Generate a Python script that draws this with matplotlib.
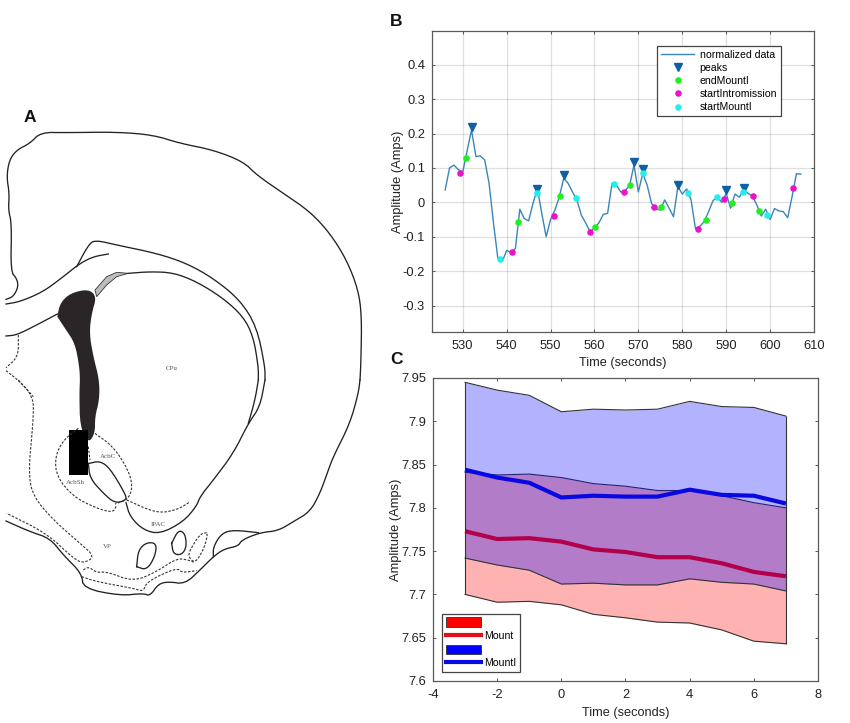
import numpy as np
import matplotlib
matplotlib.use("Agg")
import matplotlib.pyplot as plt
from matplotlib.lines import Line2D
from matplotlib.patches import Patch, Polygon

plt.rcParams["font.family"] = ["Liberation Sans", "DejaVu Sans"]
plt.rcParams["axes.unicode_minus"] = False

# panel B
trace_start = 526
trace = [0.036, 0.100, 0.108, 0.095, 0.088, 0.150, 0.210, 0.133, 0.135, 0.123, 0.055,
         -0.060, -0.163, -0.172, -0.140, -0.146, -0.134, -0.020, -0.047, -0.054, -0.003,
         0.040, -0.032, -0.100, -0.050, -0.022, 0.016, 0.070, 0.055, 0.030, 0.007,
         -0.037, -0.060, -0.085, -0.075, -0.060, -0.035, -0.032, 0.055, 0.050, 0.030,
         0.034, 0.049, 0.108, 0.030, 0.084, 0.050, -0.003, -0.020, -0.022, 0.007,
         -0.017, -0.042, 0.046, 0.024, 0.039, 0.007, -0.076, -0.070, -0.056, -0.027,
         0.005, 0.015, 0.000, 0.026, -0.017, 0.024, 0.015, 0.036, 0.026, 0.017,
         -0.008, -0.040, -0.020, -0.050, -0.018, -0.025, -0.027, -0.045, 0.016, 0.083,
         0.082]
trace_x = [trace_start + i for i in range(len(trace))]
peaks_x = [532, 547, 553, 569, 571, 579, 590, 594]
peaks_y = [0.218, 0.040, 0.078, 0.118, 0.096, 0.050, 0.036, 0.041]
end_x = [530.7, 542.6, 552.1, 560.1, 568.0, 575.2, 585.3, 591.4, 597.5]
end_y = [0.130, -0.057, 0.017, -0.072, 0.049, -0.015, -0.052, -0.001, -0.024]
intro_x = [529.4, 541.2, 550.7, 559.0, 566.7, 573.6, 583.5, 589.4, 596.0, 605.2]
intro_y = [0.085, -0.145, -0.040, -0.086, 0.031, -0.014, -0.077, 0.009, 0.018, 0.041]
start_x = [538.6, 547.0, 555.7, 564.4, 571.0, 581.2, 588.0, 593.9, 599.4]
start_y = [-0.164, 0.026, 0.012, 0.054, 0.086, 0.028, 0.015, 0.029, -0.038]

# panel C
time = [-3, -2, -1, 0, 1, 2, 3, 4, 5, 6, 7]
mount_upper = [7.841, 7.838, 7.839, 7.835, 7.828, 7.825, 7.820, 7.820, 7.814, 7.806, 7.800]
mount_mean = [7.773, 7.764, 7.765, 7.761, 7.752, 7.749, 7.743, 7.743, 7.736, 7.726, 7.721]
mount_lower = [7.700, 7.691, 7.692, 7.688, 7.677, 7.673, 7.668, 7.667, 7.659, 7.646, 7.643]
mounti_upper = [7.945, 7.936, 7.930, 7.911, 7.914, 7.913, 7.914, 7.923, 7.917, 7.916, 7.906]
mounti_mean = [7.844, 7.835, 7.829, 7.812, 7.814, 7.813, 7.813, 7.821, 7.815, 7.814, 7.805]
mounti_lower = [7.742, 7.734, 7.728, 7.712, 7.713, 7.711, 7.711, 7.718, 7.714, 7.712, 7.704]

b_yticks = [-0.3, -0.2, -0.1, 0, 0.1, 0.2, 0.3, 0.4]
b_ylabels = ["-0.3", "-0.2", "-0.1", "0", "0.1", "0.2", "0.3", "0.4"]
c_yticks = [7.6, 7.65, 7.7, 7.75, 7.8, 7.85, 7.9, 7.95]
c_ylabels = ["7.6", "7.65", "7.7", "7.75", "7.8", "7.85", "7.9", "7.95"]

outline_top = [(18, 598), (40, 590), (55, 560), (50, 535), (32, 515), (35, 370), (25, 330), (28, 280),
               (20, 230), (28, 180), (50, 150), (90, 130), (122, 97), (200, 98), (350, 96), (460, 105),
               (540, 130), (640, 150), (730, 185), (770, 225), (850, 280), (930, 335), (990, 400),
               (1040, 480), (1075, 570), (1085, 650), (1083, 780), (1080, 840)]
outline_bottom = [(1080, 0), (1075, 40), (1050, 130), (1000, 230), (985, 270), (960, 340), (930, 395),
                  (880, 425), (835, 452), (780, 458), (725, 480), (715, 498), (672, 507), (640, 530),
                  (600, 570), (555, 612), (505, 605), (475, 612), (450, 648), (430, 640), (360, 647),
                  (250, 625), (245, 580), (190, 525), (150, 475), (90, 455), (18, 423)]
cc_top = [(230, 500), (265, 435), (285, 420), (350, 435), (470, 460), (560, 490), (640, 535), (720, 600),
          (770, 680), (795, 800), (795, 840)]
cc_bottom = [(795, 0), (780, 80), (745, 130), (700, 220), (640, 300), (600, 350), (590, 378), (550, 425),
             (480, 462), (430, 450), (390, 410), (378, 368)]
cc_line = [(18, 612), (60, 605), (130, 575), (190, 530), (240, 490), (280, 470), (325, 462)]
low_line = [(18, 708), (50, 705), (110, 675), (172, 642)]
cpu_top = [(385, 520), (450, 515), (520, 518), (590, 545), (670, 595), (730, 650), (760, 710), (775, 800),
           (775, 840)]
cpu_bottom = [(775, 0), (765, 60), (745, 130)]
gray_strip = [(285, 570), (320, 530), (350, 517), (385, 520), (350, 530), (320, 555), (290, 590)]
lesion_top = [(172, 650), (180, 610), (210, 580), (265, 567), (290, 590), (275, 640), (268, 700),
              (280, 770), (298, 840), (298, 900), (285, 950), (285, 1000), (265, 1030), (240, 980),
              (238, 880), (240, 840), (238, 800), (225, 730), (195, 685)]
probe = [(208, 150), (265, 150), (265, 285), (208, 285)]
dash_top = [[(55, 705), (55, 770), (18, 803)], [(18, 812), (60, 845), (100, 890)]]
dash_bottom = [[(55, 0), (100, 50), (100, 120), (85, 280), (100, 350), (160, 420), (240, 490), (285, 530),
                (250, 550), (220, 535), (140, 460), (20, 400)],
               [(235, 145), (190, 180), (165, 230), (170, 290), (220, 350), (290, 385), (340, 398), (350, 375)],
               [(285, 160), (340, 200), (385, 270), (398, 320), (385, 358), (345, 372)],
               [(265, 200), (270, 240)],
               [(380, 360), (470, 400), (530, 390), (568, 367)],
               [(620, 458), (600, 462), (570, 510), (565, 530), (585, 550), (610, 510), (622, 470), (620, 458)],
               [(250, 570), (265, 560), (290, 578), (320, 575), (400, 605), (470, 575), (530, 535), (565, 540),
                (585, 548)],
               [(245, 590), (290, 605), (400, 625), (430, 635), (440, 605), (530, 563), (545, 578), (590, 572)]]
solid_bottom = [[(268, 250), (300, 243), (330, 265), (375, 340), (380, 360), (345, 370), (310, 340), (270, 295),
                 (265, 250)],
                [(410, 560), (415, 510), (440, 487), (470, 490), (465, 530), (440, 570), (410, 560)],
                [(515, 490), (535, 450), (555, 460), (560, 500), (545, 525), (520, 522), (515, 490)],
                [(640, 530), (640, 500), (665, 460), (700, 450), (775, 458)]]
region_names = ["CPu", "AcbC", "AcbSh", "IPAC", "VP"]
region_x = [172, 108, 75, 158, 107]
region_y = [368, 457, 482, 524, 547]


def smooth(pts, rounds=2):
    pts = np.array(pts, dtype=float)
    for _ in range(rounds):
        q = 0.75 * pts[:-1] + 0.25 * pts[1:]
        r = 0.25 * pts[:-1] + 0.75 * pts[1:]
        mid = np.empty((len(q) * 2, 2))
        mid[0::2] = q
        mid[1::2] = r
        pts = np.vstack([pts[0], mid, pts[-1]])
    return pts


def top_px(pts):
    return np.array(pts, dtype=float) / 3 + [0, 100]


def bottom_px(pts):
    return np.array(pts, dtype=float) / 3 + [0, 380]


def axes_at(fig, left, top, right, bottom):
    W, H = 850, 723
    return fig.add_axes([left / W, 1 - bottom / H, (right - left) / W, (bottom - top) / H])


def curve(ax, pts, dashed=False):
    pts = smooth(pts)
    if dashed:
        ax.plot(pts[:, 0], pts[:, 1], color="#333333", lw=0.8, ls=(0, (2.2, 1.4)))
    else:
        ax.plot(pts[:, 0], pts[:, 1], color="#222222", lw=0.95)


def style_axes(ax):
    ax.tick_params(direction="in", top=True, right=True, length=2.5, width=0.7, color="#555555",
                   labelsize=9.3, labelcolor="#222222", pad=5)
    ax.tick_params(axis="x", pad=6)
    for spine in ax.spines.values():
        spine.set_color("#5a5a5a")
        spine.set_linewidth(0.9)


fig = plt.figure(figsize=(8.5, 7.23), dpi=100)

# panel A
bg = fig.add_axes([0, 0, 1, 1])
bg.set_xlim(0, 850)
bg.set_ylim(723, 0)
bg.axis("off")
lesion = smooth(top_px(lesion_top))
bg.add_patch(Polygon(lesion, closed=True, color="#2a2526", lw=0))
bg.add_patch(Polygon(top_px(gray_strip), closed=True, facecolor="#bdbdbd", edgecolor="#333333", lw=0.6))
bg.add_patch(Polygon(bottom_px(probe), closed=True, color="black", lw=0))
for line in [outline_top, cc_top, cc_line, low_line, cpu_top]:
    curve(bg, top_px(line))
for line in [outline_bottom, cc_bottom, cpu_bottom] + solid_bottom:
    curve(bg, bottom_px(line))
for line in dash_top:
    curve(bg, top_px(line), dashed=True)
for line in dash_bottom:
    curve(bg, bottom_px(line), dashed=True)
for name, x, y in zip(region_names, region_x, region_y):
    bg.text(x, y, name, fontsize=5, color="#555555", family="Liberation Serif", ha="center", va="center")

bg.text(24, 117, "A", fontsize=12.5, fontweight="bold", va="center", color="#111111")
bg.text(390, 21, "B", fontsize=12.5, fontweight="bold", va="center", color="#111111")
bg.text(390, 360, "C", fontsize=12.5, fontweight="bold", va="center", color="#111111")

# panel B
ax_b = axes_at(fig, 432, 31, 814, 332)
ax_b.plot(trace_x, trace, color="#3a86b8", lw=1.0, label="normalized data")
ax_b.plot(peaks_x, peaks_y, "v", color="#0f5fa6", ms=6, ls="none", label="peaks")
ax_b.plot(end_x, end_y, "o", color="#22ee22", ms=3.7, ls="none", label="endMountI")
ax_b.plot(intro_x, intro_y, "o", color="#ee11cc", ms=3.7, ls="none", label="startIntromission")
ax_b.plot(start_x, start_y, "o", color="#22eeee", ms=3.7, ls="none", label="startMountI")
ax_b.set_xlim(523, 610)
ax_b.set_ylim(-0.377, 0.498)
ax_b.set_xticks(range(530, 611, 10))
ax_b.set_yticks(b_yticks)
ax_b.set_yticklabels(b_ylabels)
ax_b.grid(True, color="#000000", alpha=0.12, lw=0.9)
ax_b.set_axisbelow(True)
style_axes(ax_b)
ax_b.set_xlabel("Time (seconds)", fontsize=9.2, color="#222222", labelpad=3.5)
ax_b.set_ylabel("Amplitude (Amps)", fontsize=9.3, color="#222222", labelpad=-1)
leg = ax_b.legend(loc="upper left", bbox_to_anchor=(225 / 382, 1 - 15 / 301), fontsize=7.6,
                  fancybox=False, framealpha=1, edgecolor="#444444", borderpad=0.35, labelspacing=0.3,
                  handlelength=3.2, handletextpad=0.5, borderaxespad=0)
leg.get_frame().set_linewidth(0.9)

# panel C, drawn in order so the blue band tints the red line
ax_c = axes_at(fig, 433, 378, 818, 681)
ax_c.fill_between(time, mount_lower, mount_upper, color="red", alpha=0.3, lw=0, zorder=2)
ax_c.plot(time, mount_upper, color="#333333", lw=0.8, zorder=3)
ax_c.plot(time, mount_lower, color="#333333", lw=0.8, zorder=3)
ax_c.plot(time, mount_mean, color="red", lw=3, solid_capstyle="butt", zorder=3)
ax_c.fill_between(time, mounti_lower, mounti_upper, color="blue", alpha=0.3, lw=0, zorder=4)
ax_c.plot(time, mounti_upper, color="#333333", lw=0.8, zorder=5)
ax_c.plot(time, mounti_lower, color="#333333", lw=0.8, zorder=5)
ax_c.plot(time, mounti_mean, color="#0808e0", lw=3, solid_capstyle="butt", zorder=6)
ax_c.vlines(time[0], mount_lower[0], mounti_upper[0], color="#333333", lw=0.8, zorder=5)
ax_c.vlines(time[-1], mount_lower[-1], mounti_upper[-1], color="#333333", lw=0.8, zorder=5)
ax_c.set_xlim(-4, 8)
ax_c.set_ylim(7.6, 7.95)
ax_c.set_xticks(range(-4, 9, 2))
ax_c.set_yticks(c_yticks)
ax_c.set_yticklabels(c_ylabels)
style_axes(ax_c)
ax_c.set_xlabel("Time (seconds)", fontsize=9.2, color="#222222", labelpad=4)
ax_c.set_ylabel("Amplitude (Amps)", fontsize=9.3, color="#222222", labelpad=-1)
handles = [Patch(facecolor="red", edgecolor="#333333", lw=0.6),
           Line2D([], [], color="#e0101a", lw=3),
           Patch(facecolor="blue", edgecolor="#333333", lw=0.6),
           Line2D([], [], color="#0808e0", lw=3)]
leg_c = ax_c.legend(handles, [" ", "Mount", " ", "MountI"], loc="lower left",
                    bbox_to_anchor=(9 / 385, 9 / 303), fontsize=7.6, fancybox=False, framealpha=1,
                    edgecolor="#444444", borderpad=0.35, labelspacing=0.32, handlelength=3.3,
                    handleheight=0.95, handletextpad=0.3, borderaxespad=0)
leg_c.get_frame().set_linewidth(0.9)
leg_c.set_zorder(10)

fig.savefig("out.png", dpi=100)
